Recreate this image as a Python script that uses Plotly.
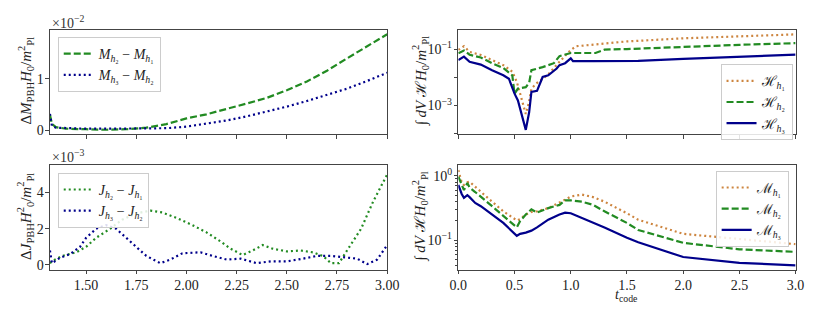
import plotly.graph_objects as go

# ---------------- data ----------------
# top-left: mass differences (units of 1e-2)
tM = [1.32, 1.325, 1.33, 1.35, 1.4, 1.5, 1.6, 1.7, 1.8, 1.9, 2.0, 2.1, 2.2, 2.3, 2.4, 2.5, 2.6, 2.7, 2.8, 2.9, 3.0]
dM21 = [0.30, 0.20, 0.12, 0.06, 0.03, 0.02, 0.01, 0.02, 0.05, 0.12, 0.23, 0.31, 0.41, 0.52, 0.63, 0.78, 0.95, 1.16, 1.40, 1.63, 1.87]
dM32 = [0.32, 0.15, 0.08, 0.05, 0.04, 0.03, 0.03, 0.03, 0.03, 0.04, 0.07, 0.13, 0.19, 0.27, 0.36, 0.46, 0.57, 0.69, 0.81, 0.96, 1.12]

# bottom-left: angular momentum differences (units of 1e-3)
tJ21 = [1.32, 1.33, 1.38, 1.45, 1.5, 1.55, 1.62, 1.68, 1.75, 1.82, 1.88, 1.95, 2.03, 2.1, 2.17, 2.22, 2.28, 2.33, 2.38, 2.43, 2.5, 2.57, 2.63, 2.68, 2.72, 2.76, 2.8, 2.87, 2.93, 3.0]
dJ21 = [0.1, 0.2, 0.5, 0.7, 1.0, 1.5, 2.0, 2.5, 2.85, 3.0, 2.9, 2.6, 2.2, 1.8, 1.3, 0.9, 0.55, 0.8, 1.1, 0.9, 0.75, 0.8, 0.7, 0.5, 0.1, 0.1, 0.8, 2.0, 3.5, 5.0]
tJ32 = [1.32, 1.33, 1.37, 1.42, 1.47, 1.5, 1.55, 1.6, 1.65, 1.7, 1.75, 1.8, 1.87, 1.92, 1.98, 2.07, 2.13, 2.2, 2.27, 2.35, 2.42, 2.5, 2.58, 2.65, 2.72, 2.78, 2.85, 2.9, 2.95, 3.0]
dJ32 = [0.8, 0.1, 0.4, 0.6, 1.0, 1.5, 2.0, 2.2, 2.0, 1.5, 1.0, 0.5, 0.1, 0.3, 0.65, 0.7, 0.5, 0.3, 0.35, 0.1, 0.2, 0.2, 0.35, 0.5, 0.5, 0.45, 0.35, 0.05, 0.3, 1.1]

# top-right: Hamiltonian constraint integrals (log10 values)
tH1 = [0.0, 0.05, 0.1, 0.2, 0.3, 0.4, 0.48, 0.52, 0.55, 0.6, 0.63, 0.65, 0.7, 0.8, 0.9, 1.0, 1.05, 1.5, 2.0, 2.5, 3.0]
logH1 = [-1.03, -0.9, -1.1, -1.21, -1.39, -1.57, -1.8, -2.16, -2.58, -3.3, -2.86, -2.4, -2.2, -1.9, -1.45, -1.03, -0.9, -0.73, -0.62, -0.54, -0.48]
tH2 = [0.0, 0.05, 0.1, 0.2, 0.3, 0.4, 0.48, 0.5, 0.53, 0.6, 0.63, 0.65, 0.75, 0.85, 0.9, 1.0, 1.22, 1.3, 1.5, 2.0, 2.5, 3.0]
logH2 = [-1.15, -1.05, -1.2, -1.3, -1.5, -1.67, -1.93, -2.58, -2.4, -2.35, -2.2, -1.75, -1.64, -1.5, -1.25, -1.14, -1.14, -1.02, -1.0, -0.92, -0.85, -0.79]
tH3 = [0.0, 0.05, 0.1, 0.2, 0.3, 0.4, 0.45, 0.5, 0.53, 0.6, 0.63, 0.65, 0.7, 0.72, 0.75, 0.8, 0.875, 0.9, 0.95, 1.0, 1.02, 1.2, 1.6, 2.0, 2.5, 3.0]
logH3 = [-1.39, -1.27, -1.45, -1.55, -1.75, -1.93, -2.05, -2.58, -2.82, -3.86, -3.24, -2.52, -2.48, -2.29, -1.99, -1.93, -1.69, -1.57, -1.5, -1.33, -1.43, -1.43, -1.42, -1.35, -1.28, -1.2]

# bottom-right: momentum constraint integrals (log10 values)
tMo = [0.0, 0.03, 0.05, 0.08, 0.1, 0.15, 0.2, 0.3, 0.4, 0.52, 0.55, 0.6, 0.65, 0.7, 0.8, 0.9, 0.95, 1.0, 1.1, 1.2, 1.3, 1.5, 1.6, 2.0, 2.5, 3.0]
logM1 = [0.09, -0.1, -0.14, -0.1, -0.09, -0.17, -0.24, -0.4, -0.55, -0.69, -0.67, -0.6, -0.56, -0.55, -0.5, -0.42, -0.37, -0.32, -0.29, -0.33, -0.4, -0.58, -0.68, -0.9, -0.98, -1.06]
logM2 = [-0.01, -0.15, -0.22, -0.11, -0.18, -0.25, -0.32, -0.47, -0.62, -0.8, -0.7, -0.6, -0.52, -0.57, -0.5, -0.45, -0.38, -0.38, -0.4, -0.45, -0.55, -0.73, -0.84, -1.04, -1.14, -1.18]
logM3 = [-0.14, -0.28, -0.34, -0.3, -0.33, -0.42, -0.47, -0.6, -0.73, -0.93, -0.9, -0.88, -0.85, -0.8, -0.68, -0.6, -0.57, -0.58, -0.65, -0.73, -0.8, -0.96, -1.03, -1.26, -1.35, -1.39]

xticks_left = [1.5, 1.75, 2.0, 2.25, 2.5, 2.75, 3.0]
xticks_right = [0.0, 0.5, 1.0, 1.5, 2.0, 2.5, 3.0]

# ---------------- style ----------------
ORANGE = "#CD853F"
GREEN = "#228B22"
BLUE = "#00008B"
FONT = "Liberation Serif"
DASH = "7px,3px"
DOT = "2px,3px"

fig = go.Figure()

def add(x, y, name, color, dash, xa, ya, legend, scale=1.0, log=False):
    yy = [10 ** v for v in y] if log else [v * scale for v in y]
    fig.add_trace(go.Scatter(x=x, y=yy, name=name, mode="lines", xaxis=xa, yaxis=ya,
                             legend=legend,
                             line=dict(color=color, width=2.2, dash=dash)))

add(tM, dM21, "<i>M</i><sub><i>h</i>₂</sub> − <i>M</i><sub><i>h</i>₁</sub>", GREEN, DASH, "x", "y", "legend", 1e-2)
add(tM, dM32, "<i>M</i><sub><i>h</i>₃</sub> − <i>M</i><sub><i>h</i>₂</sub>", BLUE, DOT, "x", "y", "legend", 1e-2)
add(tJ21, dJ21, "<i>J</i><sub><i>h</i>₂</sub> − <i>J</i><sub><i>h</i>₁</sub>", GREEN, DOT, "x3", "y3", "legend3", 1e-3)
add(tJ32, dJ32, "<i>J</i><sub><i>h</i>₃</sub> − <i>J</i><sub><i>h</i>₂</sub>", BLUE, DOT, "x3", "y3", "legend3", 1e-3)
add(tH1, logH1, "ℋ<sub><i>h</i>₁</sub>", ORANGE, DOT, "x2", "y2", "legend2", log=True)
add(tH2, logH2, "ℋ<sub><i>h</i>₂</sub>", GREEN, DASH, "x2", "y2", "legend2", log=True)
add(tH3, logH3, "ℋ<sub><i>h</i>₃</sub>", BLUE, None, "x2", "y2", "legend2", log=True)
add(tMo, logM1, "ℳ<sub><i>h</i>₁</sub>", ORANGE, DOT, "x4", "y4", "legend4", log=True)
add(tMo, logM2, "ℳ<sub><i>h</i>₂</sub>", GREEN, DASH, "x4", "y4", "legend4", log=True)
add(tMo, logM3, "ℳ<sub><i>h</i>₃</sub>", BLUE, None, "x4", "y4", "legend4", log=True)

W, H = 830, 332
def fx(p): return p / W
def fy(p): return 1 - p / H

axcommon = dict(showgrid=False, zeroline=False, showline=True, mirror=True, linecolor="#444",
                linewidth=1, ticks="outside", ticklen=3.5, tickcolor="#444", ticklabelstandoff=-1,
                tickfont=dict(family=FONT, size=14, color="#222"))

L = [fx(42), fx(388)]
R = [fx(461), fx(807)]
T = [fy(136), fy(30.5)]
B = [fy(273), fy(167)]

lay = dict(
    width=W, height=H, margin=dict(l=0, r=0, t=0, b=0),
    paper_bgcolor="white", plot_bgcolor="white", showlegend=True,
    font=dict(family=FONT, size=14, color="#222"),
    xaxis=dict(domain=L, anchor="y", range=[1.32, 3.0], tickvals=xticks_left, showticklabels=False, **axcommon),
    yaxis=dict(domain=T, anchor="x", range=[-0.0008, 0.0195], tickvals=[0, 0.01], ticktext=["0", "1"], **axcommon),
    xaxis3=dict(domain=L, anchor="y3", range=[1.32, 3.0], tickvals=xticks_left,
                ticktext=["%.2f" % v for v in xticks_left], **axcommon),
    yaxis3=dict(domain=B, anchor="x3", range=[-0.00026, 0.00552], tickvals=[0, 0.002, 0.004],
                ticktext=["0", "2", "4"], **axcommon),
    xaxis2=dict(domain=R, anchor="y2", range=[0, 3.0], tickvals=xticks_right, showticklabels=False, **axcommon),
    yaxis2=dict(domain=T, anchor="x2", type="log", range=[-4.02, -0.33],
                tickvals=[1e-4, 1e-3, 1e-2, 1e-1], ticktext=["", "10<sup>−3</sup>", "", "10<sup>−1</sup>"], **axcommon),
    xaxis4=dict(domain=R, anchor="y4", range=[0, 3.0], tickvals=xticks_right,
                ticktext=["%.1f" % v for v in xticks_right], **axcommon),
    yaxis4=dict(domain=B, anchor="x4", type="log", range=[-1.457, 0.17],
                tickvals=[0.1, 1.0], ticktext=["10<sup>−1</sup>", "10<sup>0</sup>"],
                minor=dict(ticks="outside", ticklen=2, tickcolor="#444",
                           tickvals=[0.04, 0.05, 0.06, 0.07, 0.08, 0.09, 0.2, 0.3, 0.4, 0.5, 0.6, 0.7, 0.8, 0.9]),
                **axcommon),
)

def legend_at(x0, y0):
    return dict(x=fx(x0), y=fy(y0), xanchor="left", yanchor="top", bgcolor="rgba(255,255,255,0.85)",
                bordercolor="#ccc", borderwidth=1, font=dict(family=FONT, size=14, color="#222"),
                tracegroupgap=0, itemwidth=30)

lay["legend"] = legend_at(50, 37.5)
lay["legend3"] = legend_at(50, 175)
lay["legend2"] = legend_at(730, 65)
lay["legend4"] = legend_at(725, 173)

fig.update_layout(**lay)

ann = [
    dict(text="Δ<i>M</i><sub>PBH</sub><i>H</i><sub>0</sub>/<i>m</i><sup>2</sup><sub>Pl</sub>", x=fx(17), y=fy(82), textangle=-90),
    dict(text="Δ<i>J</i><sub>PBH</sub><i>H</i><sup>2</sup><sub>0</sub>/<i>m</i><sup>2</sup><sub>Pl</sub>", x=fx(17), y=fy(219), textangle=-90),
    dict(text="∫ <i>dV</i> ℋ<i>H</i><sub>0</sub>/<i>m</i><sup>2</sup><sub>Pl</sub>", x=fx(422), y=fy(82), textangle=-90),
    dict(text="∫ <i>dV</i> ℋ<i>H</i><sub>0</sub>/<i>m</i><sup>2</sup><sub>Pl</sub>", x=fx(422), y=fy(219), textangle=-90),
    dict(text="<i>t</i><sub>code</sub>", x=fx(634), y=fy(299), font=dict(family=FONT, size=14, color="#222")),
    dict(text="×10<sup>−2</sup>", x=fx(42), y=fy(22), xanchor="left", font=dict(family=FONT, size=14, color="#333")),
    dict(text="×10<sup>−3</sup>", x=fx(42), y=fy(158), xanchor="left", font=dict(family=FONT, size=14, color="#333")),
]
for a in ann:
    a.setdefault("xanchor", "center")
    a.update(xref="paper", yref="paper", yanchor="middle", showarrow=False)
    a.setdefault("font", dict(family=FONT, size=15, color="#222"))
    fig.add_annotation(**a)

fig.write_html("out.html", config={"displayModeBar": False},
               post_script="document.body.style.margin='0';document.body.style.overflow='hidden';")
